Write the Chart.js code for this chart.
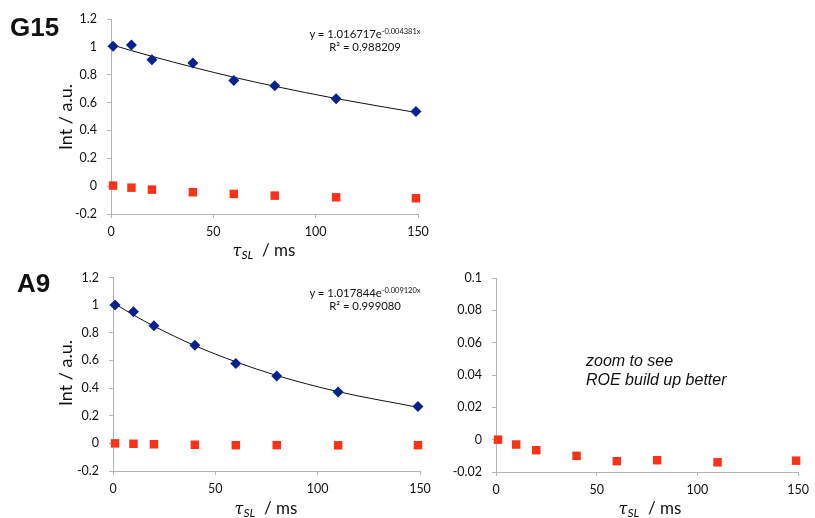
<!DOCTYPE html>
<html>
<head>
<meta charset="utf-8">
<script src="https://cdn.jsdelivr.net/npm/chart.js@4"></script>
<style>
  body { margin: 0; background: #fff; width: 815px; height: 518px; position: relative; overflow: hidden; font-family: Lato, "Liberation Sans", sans-serif; color: #111; }
  canvas { position: absolute; }
  .lbl { position: absolute; font-family: "Liberation Sans", Arial, sans-serif; font-weight: bold; font-size: 26px; line-height: 26px; }
  .eq { position: absolute; width: 160px; text-align: center; font-size: 11.3px; line-height: 13px; white-space: nowrap; }
  .eq sup { font-size: 7.5px; vertical-align: 4px; line-height: 0; }
  .xt { position: absolute; width: 160px; text-align: center; font-size: 17px; line-height: 18px; white-space: nowrap; }
  .xt i { font-family: "DejaVu Serif", serif; font-size: 16px; }
  .xt sub { font-size: 12px; font-style: italic; vertical-align: -3px; line-height: 0; }
  .yt { position: absolute; width: 120px; text-align: center; font-size: 18px; line-height: 20px; white-space: nowrap; transform: rotate(-90deg); }
  .note { position: absolute; font-family: "Liberation Sans", Arial, sans-serif; font-style: italic; font-size: 16px; line-height: 19px; white-space: nowrap; }
</style>
</head>
<body>
<canvas id="chart-g15" width="440" height="260" style="left:0;top:0"></canvas>
<canvas id="chart-a9" width="440" height="258" style="left:0;top:260px"></canvas>
<canvas id="chart-zoom" width="375" height="258" style="left:440px;top:260px"></canvas>

<div class="lbl" style="left:10px;top:14px">G15</div>
<div class="lbl" style="left:17px;top:270px">A9</div>

<div class="eq" style="left:285px;top:27px">y = 1.016717e<sup>-0.004381x</sup><br>R² = 0.988209</div>
<div class="eq" style="left:285px;top:286px">y = 1.017844e<sup>-0.009120x</sup><br>R² = 0.999080</div>

<div class="yt" style="left:5px;top:107px">Int / a.u.</div>
<div class="yt" style="left:5px;top:363px">Int / a.u.</div>

<div class="xt" style="left:184px;top:241px"><i>τ</i><sub>SL</sub> &nbsp;/ ms</div>
<div class="xt" style="left:186px;top:499px"><i>τ</i><sub>SL</sub> &nbsp;/ ms</div>
<div class="xt" style="left:570px;top:499px"><i>τ</i><sub>SL</sub> &nbsp;/ ms</div>

<div class="note" style="left:586px;top:351px">zoom to see<br>ROE build up better</div>

<script>
// spin-lock times (ms)
const tauSL = [1, 10, 20, 40, 60, 80, 110, 149];

// G15: diagonal peak decay, cross peak (ROE), exponential trendline
const g15Diag = [1.004, 1.013, 0.908, 0.884, 0.759, 0.721, 0.627, 0.536];
const g15Cross = [0.004, -0.011, -0.025, -0.044, -0.056, -0.068, -0.080, -0.087];
const g15Fit = [1.012, 0.973, 0.932, 0.854, 0.782, 0.717, 0.629, 0.529];

// A9
const a9Diag = [1.001, 0.953, 0.851, 0.710, 0.578, 0.487, 0.372, 0.267];
const a9Cross = [0.000, -0.003, -0.0065, -0.010, -0.0133, -0.0127, -0.014, -0.013];
const a9Fit = [1.009, 0.929, 0.848, 0.707, 0.590, 0.491, 0.374, 0.261];

// axis ticks
const xTicks = [0, 50, 100, 150];
const yTicksMain = [-0.2, 0, 0.2, 0.4, 0.6, 0.8, 1, 1.2];
const yTicksZoom = [-0.02, 0, 0.02, 0.04, 0.06, 0.08, 0.1];

const BLUE = '#0c2190';
const RED = '#f8331a';
const AXIS = '#b4b4b4';

function pts(xs, ys) {
    return xs.map((x, i) => ({ x: x, y: ys[i] }));
}

function diagSet(ys) {
    return { data: pts(tauSL, ys), pointStyle: 'rectRot', pointRadius: 5.5, backgroundColor: BLUE, borderColor: BLUE, borderWidth: 0, showLine: false, order: 1, clip: false };
}
function crossSet(ys) {
    return { data: pts(tauSL, ys), pointStyle: 'rect', pointRadius: 6, backgroundColor: RED, borderColor: RED, borderWidth: 0, showLine: false, order: 2, clip: false };
}
function fitSet(ys) {
    return { data: pts(tauSL, ys), showLine: true, pointRadius: 0, borderColor: '#111', borderWidth: 1, cubicInterpolationMode: 'monotone', order: 3, clip: false };
}

function makeChart(id, datasets, yTicks, pad, yWidth, xHeight) {
    const ctx = document.getElementById(id).getContext('2d');
    const step = +(yTicks[1] - yTicks[0]).toFixed(4);
    return new Chart(ctx, {
        type: 'scatter',
        data: { datasets: datasets },
        options: {
            responsive: false,
            animation: false,
            layout: { padding: pad },
            plugins: { legend: { display: false }, tooltip: { enabled: false } },
            scales: {
                x: {
                    type: 'linear',
                    min: xTicks[0],
                    max: xTicks[xTicks.length - 1],
                    border: { color: AXIS, width: 1 },
                    grid: { drawOnChartArea: false, color: AXIS, tickLength: 4 },
                    ticks: { stepSize: xTicks[1] - xTicks[0], padding: 6, color: '#111', font: { family: 'Lato', size: 12.5 }, maxRotation: 0 },
                    afterFit: s => { s.height = xHeight; }
                },
                y: {
                    min: yTicks[0],
                    max: yTicks[yTicks.length - 1],
                    border: { color: AXIS, width: 1 },
                    grid: { drawOnChartArea: false, color: AXIS, tickLength: 4 },
                    ticks: {
                        stepSize: step,
                        padding: 10,
                        color: '#111',
                        font: { family: 'Lato', size: 12.5 },
                        callback: v => String(+v.toFixed(4))
                    },
                    afterFit: s => { s.width = yWidth; }
                }
            }
        }
    });
}

function initPage() {
    makeChart('chart-g15', [diagSet(g15Diag), crossSet(g15Cross), fitSet(g15Fit)], yTicksMain,
        { top: 19, right: 22, bottom: 0, left: 0 }, 111, 46);
    makeChart('chart-a9', [diagSet(a9Diag), crossSet(a9Cross), fitSet(a9Fit)], yTicksMain,
        { top: 16, right: 20, bottom: 0, left: 0 }, 113, 47);
    makeChart('chart-zoom', [crossSet(a9Cross)], yTicksZoom,
        { top: 18, right: 12, bottom: 0, left: 0 }, 56, 46);
}

window.onload = initPage;
</script>
</body>
</html>
